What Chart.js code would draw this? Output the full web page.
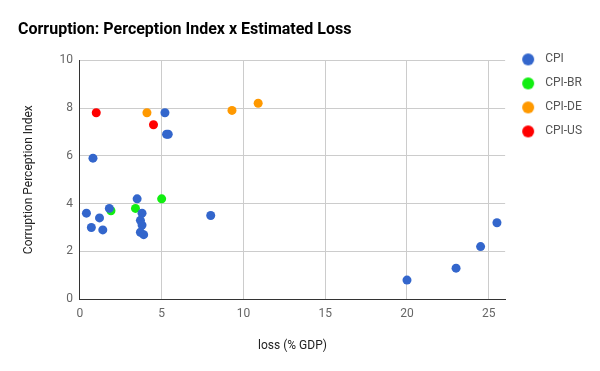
<!DOCTYPE html>
<html lang="en">

<head>
    <meta charset="UTF-8">
    <style>
        html, body { margin: 0; padding: 0; background: #fff; }
        #box { width: 600px; height: 371px; }
    </style>
</head>

<body>
    <div id="box"><canvas id="cpi-chart"></canvas></div>
    <script src="https://cdn.jsdelivr.net/npm/chart.js@4/dist/chart.umd.min.js"></script>
<script>
    // values: [loss % GDP, perception index]
    var cpiLoss  = [5.2, 5.3, 5.4, 0.8, 3.5, 1.8, 0.4, 1.2, 3.8, 3.7, 3.8, 0.7, 1.4, 3.7, 3.9, 8.0, 20.0, 23.0, 24.5, 25.5];
    var cpiIndex = [7.8, 6.9, 6.9, 5.9, 4.2, 3.8, 3.6, 3.4, 3.6, 3.3, 3.1, 3.0, 2.9, 2.8, 2.7, 3.5, 0.8, 1.3, 2.2, 3.2];
    var brLoss  = [1.9, 3.4, 5.0];
    var brIndex = [3.7, 3.8, 4.2];
    var deLoss  = [4.1, 9.3, 10.9];
    var deIndex = [7.8, 7.9, 8.2];
    var usLoss  = [1.0, 4.5];
    var usIndex = [7.8, 7.3];
    var xTicks = [0, 5, 10, 15, 20, 25];
    var yTicks = [0, 2, 4, 6, 8, 10];

    function pts(xs, ys) {
        return xs.map(function (x, i) { return { x: x, y: ys[i] }; });
    }
    function serie(label, color, xs, ys) {
        return {
            label: label,
            data: pts(xs, ys),
            backgroundColor: color,
            borderColor: color,
            pointRadius: 4.5,
            pointHoverRadius: 4.5,
            borderWidth: 0
        };
    }
    // small round marker for the legend (keeps a wide box without an ellipse)
    function dot(color) {
        var c = document.createElement('canvas');
        c.width = 16; c.height = 16;
        var g = c.getContext('2d');
        g.fillStyle = color;
        g.beginPath();
        g.arc(8, 8, 6, 0, Math.PI * 2);
        g.fill();
        return c;
    }

    Chart.defaults.font.family = "Roboto, 'Noto Sans', sans-serif";
    Chart.defaults.animation = false;

    var ctx = document.getElementById('cpi-chart').getContext('2d');
    var chart = new Chart(ctx, {
        type: 'scatter',
        data: {
            datasets: [
                serie('CPI', '#3366cc', cpiLoss, cpiIndex),
                serie('CPI-BR', '#11ee11', brLoss, brIndex),
                serie('CPI-DE', '#ff9900', deLoss, deIndex),
                serie('CPI-US', '#ff0000', usLoss, usIndex)
            ]
        },
        options: {
            responsive: true,
            maintainAspectRatio: false,
            layout: { padding: { left: 18, right: 8, bottom: 14 } },
            plugins: {
                tooltip: { enabled: false },
                title: {
                    display: true,
                    text: 'Corruption: Perception Index x Estimated Loss',
                    align: 'start',
                    color: '#000',
                    font: { size: 16, weight: 'bold' },
                    padding: { top: 20, bottom: 21 }
                },
                legend: {
                    position: 'right',
                    align: 'start',
                    // empty title only pushes the items down to the plot top
                    title: { display: true, text: ' ', padding: { top: 13, bottom: 14 } },
                    labels: {
                        usePointStyle: true,
                        pointStyleWidth: 22,
                        boxWidth: 12,
                        boxHeight: 8.5,
                        padding: 12,
                        color: '#555',
                        font: { size: 12 },
                        generateLabels: function (chart) {
                            var items = Chart.defaults.plugins.legend.labels.generateLabels(chart);
                            items.forEach(function (it, i) {
                                it.pointStyle = dot(chart.data.datasets[i].backgroundColor);
                            });
                            return items;
                        }
                    }
                }
            },
            scales: {
                x: {
                    type: 'linear',
                    min: 0,
                    max: 26,
                    afterBuildTicks: function (s) {
                        s.ticks = xTicks.map(function (v) { return { value: v }; });
                    },
                    grid: {
                        color: function (c) { return c.tick && c.tick.value === 0 ? '#333' : '#cccccc'; },
                        drawTicks: false
                    },
                    border: { color: '#333', width: 1 },
                    ticks: { color: '#666', padding: 8, font: { size: 12 } },
                    title: {
                        display: true,
                        text: 'loss (% GDP)',
                        color: '#222',
                        font: { size: 12 },
                        padding: { top: 9 }
                    }
                },
                y: {
                    min: 0,
                    max: 10,
                    afterBuildTicks: function (s) {
                        s.ticks = yTicks.map(function (v) { return { value: v }; });
                    },
                    grid: {
                        color: function (c) { return c.tick && c.tick.value === 0 ? '#333' : '#cccccc'; },
                        drawTicks: false
                    },
                    border: { color: '#333', width: 1 },
                    ticks: { color: '#666', padding: 7, font: { size: 12 } },
                    title: {
                        display: true,
                        text: 'Corruption Perception Index',
                        color: '#222',
                        font: { size: 12 },
                        padding: { bottom: 16 }
                    }
                }
            }
        }
    });
</script>

</body>

</html>
